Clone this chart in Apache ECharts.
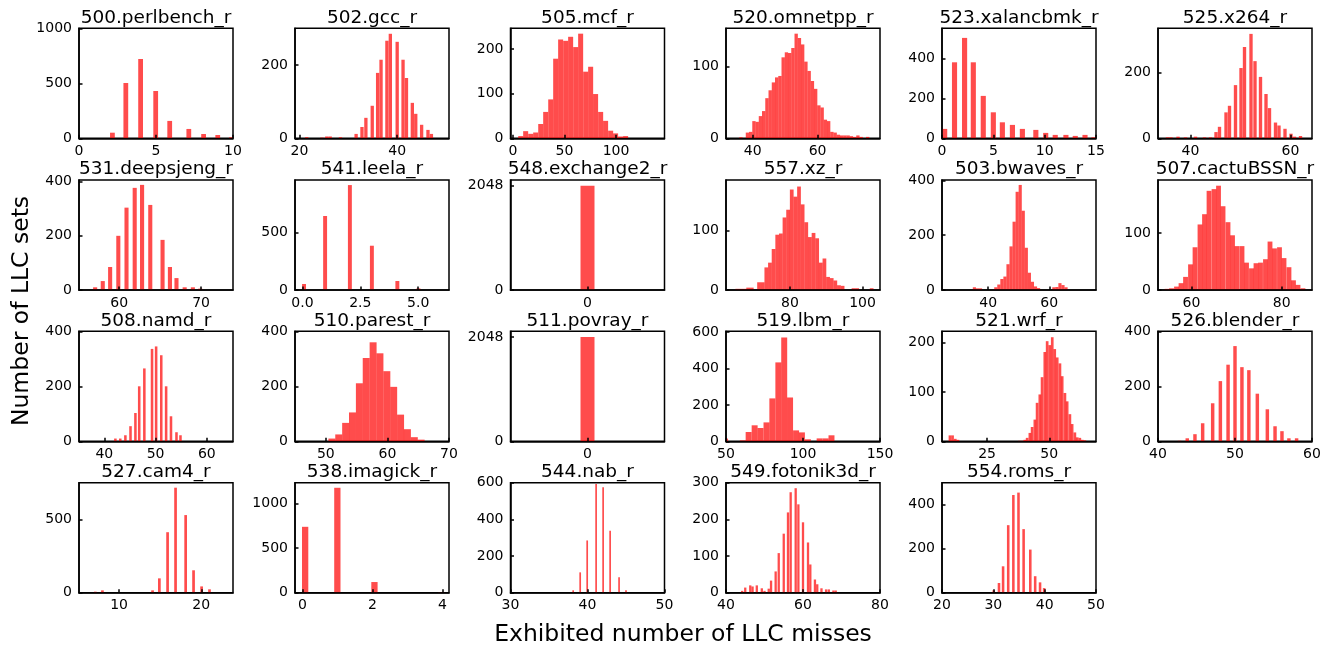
<!DOCTYPE html>
<html><head><meta charset="utf-8">
<script src="https://cdn.jsdelivr.net/npm/echarts@6/dist/echarts.min.js"></script>
<style>html,body{margin:0;padding:0;background:#fff}#c{width:1330px;height:650px}</style>
</head><body><div id="c"></div>
<script>
// ---------- data ----------
const titles = ['500.perlbench_r','502.gcc_r','505.mcf_r','520.omnetpp_r','523.xalancbmk_r','525.x264_r',
  '531.deepsjeng_r','541.leela_r','548.exchange2_r','557.xz_r','503.bwaves_r','507.cactuBSSN_r',
  '508.namd_r','510.parest_r','511.povray_r','519.lbm_r','521.wrf_r','526.blender_r',
  '527.cam4_r','538.imagick_r','544.nab_r','549.fotonik3d_r','554.roms_r'];

// bin centres (LLC misses) and counts (LLC sets)
const perlbenchX = [2.17,3.04,4.0,4.98,5.89,7.13,8.09,9.01,9.9];
const perlbenchN = [51,503,721,430,158,85,39,30,9];
const gccX = [21.5,24.6,25.6,26.3,28.4,31.6,32.8,33.6,34.9,36.0,36.7,37.9,38.6,40.0,41.2,41.9,43.1,43.8,45.0,46.3,47.0];
const gccN = [3,2,5,5,3,12,31,56,89,179,215,267,286,264,215,165,97,67,37,23,12];
const mcfX = [7.6,12.4,17.3,22.1,27.0,31.8,36.7,41.5,46.3,51.2,56.0,60.9,65.7,70.6,75.4,80.2,85.1,89.9,94.8,99.6,104.5,109.3];
const mcfN = [5,16,10,13,32,59,87,178,221,218,227,204,234,149,160,99,59,39,17,11,4,5];
const omnetppX = [36.4,38.4,39.4,40.4,41.4,42.4,43.4,44.4,45.4,46.4,47.4,48.4,49.4,50.4,51.4,52.4,53.4,54.4,55.4,56.4,57.4,58.4,59.4,60.4,61.4,62.4,63.4,64.4,65.4,66.4,67.4,68.4,69.4,70.4,71.4,72.4,73.4,75.4];
const omnetppN = [1.5,8,9,24,23,31,38,56,67,78,85,87,113,120,119,126,146,140,131,107,94,80,69,46,43,26,24,9,8,5,4,4,4,3,2,4,2,2];
const xalancX = [0.26,1.22,2.2,3.05,4.02,5.0,5.88,6.86,7.83,9.14,10.1,11.03,12.07,12.98,13.93,14.8];
const xalancN = [47,380,502,380,212,130,80,67,47,42,27,17,17,12,17,5];
const x264X = [35.4,36.1,37.5,39.0,41.0,42.8,44.0,45.1,45.8,47.1,47.8,49.0,50.1,50.8,52.1,52.9,54.0,55.1,55.8,57.0,57.7,58.9,60.1,60.8,62.0];
const x264N = [3,3,5,3,5,3,3,19,35,79,99,162,214,278,318,235,187,135,92,48,39,29,14,5,7];
const deepsjengX = [57.07,58.0,58.9,59.9,60.9,61.9,62.8,63.8,65.3,66.2,67.0,68.0,69.0,69.9];
const deepsjengN = [10,33,85,200,304,377,388,314,185,85,44,10,10,5];
const leelaX = [0.07,0.98,2.05,3.0,4.1,5.01];
const leelaN = [52,642,910,384,78,14];
const exchange2X = [0];
const exchange2N = [2048];
const xzX = [65.5,66.5,67.5,68.5,69.5,71.5,72.5,73.5,74.5,75.5,76.5,77.5,78.5,79.5,80.5,81.5,82.5,83.5,84.5,85.5,86.5,87.5,88.5,89.5,90.5,91.5,92.5,93.5,94.5,97.5,98.5,102.5];
const xzN = [2,2,2,4,4,13,13,38,46,69,93,95,122,135,169,157,174,144,114,89,96,87,46,53,22,20,16,8,7,3,3,3];
const bwavesX = [35.5,36.5,37.5,42.5,43.5,44.5,45.5,46.5,47.5,48.5,49.5,50.5,51.5,52.5,53.5,54.5,55.5,56.5,61.5,62.5,63.5,64.5,65.5];
const bwavesN = [10,6,6,10,20,40,49,94,159,249,358,383,289,154,63,30,13,7,10,11,25,18,10];
const cactuX = [54.6,55.6,56.7,57.7,58.7,59.8,60.8,61.9,62.9,63.9,65.0,66.0,67.0,68.1,69.1,70.1,71.2,72.2,73.3,74.3,75.3,76.4,77.4,78.4,79.5,80.5,81.6,82.6,83.6,84.7];
const cactuN = [2,3,6,12,23,45,75,115,133,174,177,183,147,119,96,77,77,48,38,47,48,54,85,73,75,56,40,17,9,3];
const namdX = [42.15,43.1,44.1,45.1,46.06,46.8,47.8,49.3,50.1,51.1,52.05,53.0,54.07,54.85];
const namdN = [10,10,22,55,103,200,265,336,345,313,200,91,33,22];
const parestX = [50.99,52.10,53.22,54.33,55.45,56.56,57.68,58.79,59.91,61.02,62.14,63.25,64.37,65.48];
const parestN = [10,25,67,105,211,303,360,320,255,198,97,44,15,6];
const povrayX = [0];
const povrayN = [2048];
const lbmX = [49.4,60.9,64.7,68.6,72.4,76.3,80.1,84.0,87.8,91.6,95.5,99.3,103.2,110.8,114.7,118.5];
const lbmN = [15,5,51,88,73,104,236,434,571,241,60,49,11,16,16,33];
const wrfX = [10.05,11.1,12.2,13.3,38.0,39.1,40.15,41.1,42.2,43.1,44.2,45.1,46.2,47.1,48.2,49.15,50.2,51.2,52.2,53.2,54.3,55.2,56.3,57.2,58.3,59.2,60.3,61.25,62.3,63.3,64.3];
const wrfN = [12,12,5,3,1,1,3,7,17,29,44,78,95,130,181,203,195,211,187,170,158,132,98,81,55,35,18,8,7,3,2];
const blenderX = [42.8,43.8,44.8,45.8,47.1,48.1,49.1,50.0,50.9,51.8,52.9,54.2,55.2,56.1,57.0,58.0];
const blenderN = [2,11,26,66,139,220,280,348,271,260,174,117,55,37,11,11];
const cam4X = [7.1,7.97,14.07,14.9,15.9,16.87,18.1,19.06,20.04,21.0];
const cam4N = [7,16,16,98,413,717,530,153,43,23];
const imagickX = [0.08,1.0,2.06,3.97];
const imagickN = [741,1180,120,5];
const nabX = [38.14,39.05,39.96,41.12,42.03,42.94,44.1,45.0];
const nabN = [13,111,285,593,575,338,84,13];
const fotonikX = [44.2,45.0,46.3,46.9,48.0,49.3,50.0,51.1,51.7,52.9,53.7,55.0,56.1,56.8,58.1,58.8,60.0,61.3,61.9,63.1,63.7,64.8,66.0,66.7,67.9,68.5];
const fotonikN = [5,14,20,17,20,12,5,11,33,58,108,161,219,274,285,241,192,137,77,36,23,12,9,9,6,6];
const romsX = [30.08,31.1,31.9,32.9,33.9,34.9,35.9,37.2,38.15,39.1,39.9];
const romsN = [11,44,120,307,444,455,289,196,75,47,21];

const binX = [perlbenchX,gccX,mcfX,omnetppX,xalancX,x264X,deepsjengX,leelaX,exchange2X,xzX,bwavesX,cactuX,
  namdX,parestX,povrayX,lbmX,wrfX,blenderX,cam4X,imagickX,nabX,fotonikX,romsX];
const binN = [perlbenchN,gccN,mcfN,omnetppN,xalancN,x264N,deepsjengN,leelaN,exchange2N,xzN,bwavesN,cactuN,
  namdN,parestN,povrayN,lbmN,wrfN,blenderN,cam4N,imagickN,nabN,fotonikN,romsN];
// histogram bin width (data units) per panel
const binWidth = [0.31,0.68,4.86,1.03,0.5,0.67,0.5,0.17,0.1,1.03,1.03,1.07,0.5,1.13,0.1,3.88,1.08,0.45,0.33,0.18,0.22,0.6,0.5];

// axis ranges and ticks
const xMin = [0,19.1,-2.3,31.8,0,33.5,55.1,-0.32,-0.55,62.4,24.9,52.6,35.05,45,-0.55,50,6.85,40,5.12,-0.21,30,40,20];
const xMax = [10,50.6,147,79.2,15,64.3,73.9,6.33,0.55,104.8,75.3,86.7,65.1,70,0.55,150,68.8,60,23.86,4.19,50,80,50];
const yMax = [1000,301,246,153.5,550,335,406,954,2159,185,401,193,400,400,2159,605,223,402,751,1237,600,300,500];
const xTicks = [[0,5,10],[20,40],[0,50,100],[40,60],[0,5,10,15],[40,60],
  [60,70],[0,2.5,5],[0],[80,100],[40,60],[60,80],
  [40,50,60],[50,60,70],[0],[50,100,150],[25,50],[40,50,60],
  [10,20],[0,2,4],[30,40,50],[40,60,80],[20,30,40,50]];
const yTicks = [[0,500,1000],[0,200],[0,100,200],[0,100],[0,200,400],[0,200],
  [0,200,400],[0,500],[0,2048],[0,100],[0,200,400],[0,100],
  [0,200,400],[0,200,400],[0,2048],[0,200,400,600],[0,100,200],[0,200,400],
  [0,500],[0,500,1000],[0,200,400,600],[0,100,200,300],[0,200,400]];
const xLabelDecimals = [0,0,0,0,0,0,0,1,0,0,0,0,0,0,0,0,0,0,0,0,0,0,0];

const xAxisTitle = 'Exhibited number of LLC misses';
const yAxisTitle = 'Number of LLC sets';

// ---------- layout ----------
const colLeft = [79, 295, 510.5, 726, 942, 1158];
const rowTop = [28.3, 180, 331.3, 482.7];
const W = 154, H = 110;
const FONT = '"DejaVu Sans", sans-serif';

const chart = echarts.init(document.getElementById('c'), null, {renderer: 'canvas'});

const grids = [], xAxes = [], yAxes = [], series = [], graphics = [];

function renderItem(params, api) {
  const x = api.value(0), y = api.value(1), w = api.value(2);
  const p0 = api.coord([x - w / 2, y]);
  const p1 = api.coord([x + w / 2, 0]);
  const cs = params.coordSys;
  const rect = echarts.graphic.clipRectByRect(
    {x: p0[0], y: p0[1], width: p1[0] - p0[0], height: p1[1] - p0[1]},
    {x: cs.x, y: cs.y, width: cs.width, height: cs.height});
  return rect && {type: 'rect', shape: rect, style: {fill: 'rgba(255,0,0,0.7)'}};
}

titles.forEach((t, i) => {
  const r = Math.floor(i / 6), c = i % 6;
  const left = colLeft[c], top = rowTop[r];
  grids.push({left, top, width: W, height: H, show: true, borderColor: '#000', borderWidth: 1.5,
    backgroundColor: 'transparent', containLabel: false});
  const dec = xLabelDecimals[i];
  xAxes.push({type: 'value', gridIndex: i, min: xMin[i], max: xMax[i], z: 5,
    axisLine: {show: true, onZero: false, lineStyle: {color: '#000', width: 1.5}},
    axisTick: {show: true, inside: true, length: 3.5, lineStyle: {color: '#000', width: 1.5}, customValues: xTicks[i]},
    axisLabel: {show: true, customValues: xTicks[i], margin: 6, color: '#000', fontSize: 14, fontFamily: FONT,
      formatter: v => dec ? Number(v).toFixed(dec) : String(Math.round(v))},
    splitLine: {show: false}});
  yAxes.push({type: 'value', gridIndex: i, min: 0, max: yMax[i], z: 5,
    axisLine: {show: true, onZero: false, lineStyle: {color: '#000', width: 1.5}},
    axisTick: {show: true, inside: true, length: 3.5, lineStyle: {color: '#000', width: 1.5}, customValues: yTicks[i]},
    axisLabel: {show: true, customValues: yTicks[i], margin: 7, color: '#000', fontSize: 14, fontFamily: FONT,
      formatter: v => String(Math.round(v))},
    splitLine: {show: false}});
  const data = binX[i].map((x, k) => [x, binN[i][k], binWidth[i]]);
  series.push({type: 'custom', xAxisIndex: i, yAxisIndex: i, renderItem, data,
    encode: {x: 0, y: 1}, z: 2, silent: true, animation: false});
  graphics.push({type: 'text', x: left + W / 2, y: top - 10.4, silent: true,
    style: {text: t, fill: '#000', font: '18.5px ' + FONT, align: 'center', verticalAlign: 'middle'}});
});

graphics.push({type: 'text', x: 683, y: 635, silent: true,
  style: {text: xAxisTitle, fill: '#000', font: '23.5px ' + FONT, align: 'center', verticalAlign: 'middle'}});
graphics.push({type: 'text', x: 22, y: 311, rotation: Math.PI / 2, silent: true,
  style: {text: yAxisTitle, fill: '#000', font: '23.5px ' + FONT, align: 'center', verticalAlign: 'middle'}});

chart.setOption({animation: false, backgroundColor: '#fff', grid: grids, xAxis: xAxes, yAxis: yAxes,
  series, graphic: graphics});
</script>
</body></html>
